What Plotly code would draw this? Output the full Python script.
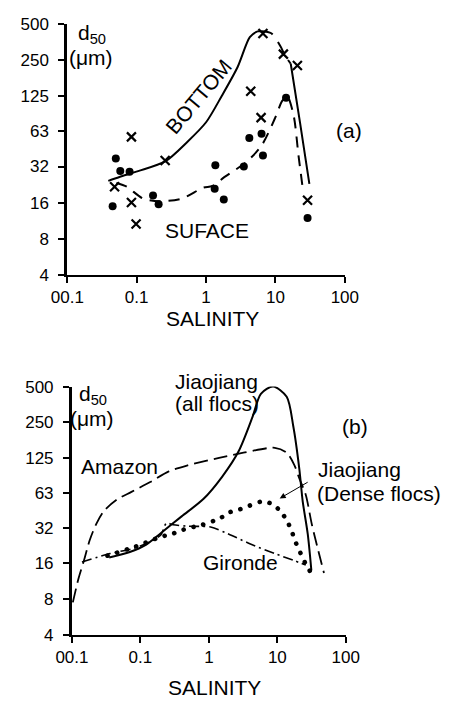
import math
import plotly.graph_objects as go

# ---------------- data ----------------
x_tick_vals = [0.01, 0.1, 1, 10, 100]
x_tick_text = ["00.1", "0.1", "1", "10", "100"]
y_tick_vals = [4, 8, 16, 32, 63, 125, 250, 500]
y_tick_text = ["4", "8", "16", "32", "63", "125", "250", "500"]

# panel (a): bottom-water samples (crosses)
bottom_pts_x = [0.048, 0.084, 0.084, 0.098, 0.257, 4.4, 6.2, 6.6, 8.2, 13, 20.7, 29]
bottom_pts_y = [21.7, 56.6, 16, 10.6, 36, 136, 82, 413, 537, 278, 223, 16.7]
# panel (a): surface-water samples (dots)
surface_pts_x = [0.045, 0.050, 0.058, 0.079, 0.172, 0.207, 1.33, 1.36, 1.8, 3.5, 4.2, 6.3, 6.6, 14.2, 29]
surface_pts_y = [14.9, 37.3, 29.3, 29, 18.3, 15.5, 20.9, 32.8, 17, 32, 55.4, 60, 39.6, 120, 11.9]
# panel (a): BOTTOM fitted curve
bottom_curve_x = [0.039, 0.0565, 0.105, 0.257, 0.54, 1.0, 1.69, 2.86, 4.27, 5.5, 6.3, 8.7, 11.9, 13.5, 16.6, 22.7, 30.8]
bottom_curve_y = [24.3, 26.2, 29.3, 35.3, 51.6, 75, 125, 218, 385, 430, 432, 415, 320, 275, 231, 73, 22.9]
# panel (a): SURFACE fitted curve
surface_curve_x = [0.051, 0.072, 0.123, 0.213, 0.45, 0.91, 1.23, 1.85, 3.9, 6.4, 9.8, 12.5, 14.7, 18.3, 21.4, 25]
surface_curve_y = [23.3, 21.7, 17.3, 16.4, 17.3, 21.3, 22, 26.2, 35.3, 48.6, 80.6, 113, 124, 85, 40.3, 20]

# panel (b)
jiao_all_x = [0.035, 0.07, 0.12, 0.2, 0.4, 0.83, 1.55, 2.72, 4.37, 5.75, 8.7, 13.7, 17.1, 20.9, 23.5, 27.8, 31.4]
jiao_all_y = [18, 20, 23, 29, 40, 56, 86, 142, 280, 434, 500, 410, 231, 102, 53.4, 28.4, 14]
amazon_x = [0.0103, 0.0125, 0.015, 0.0181, 0.0226, 0.029, 0.045, 0.074, 0.139, 0.26, 0.49, 1.41, 3.2, 9.2, 13.7, 17.8, 20.9, 26, 32, 48]
amazon_y = [7.5, 12, 17, 25, 34.4, 44, 55.4, 64.4, 78, 96, 108, 125, 138, 152, 138, 108, 84, 61, 34, 13.3]
jiao_dense_x = [0.033, 0.084, 0.2, 0.29, 0.41, 0.59, 0.78, 1.46, 1.98, 2.8, 3.96, 5.94, 8.2, 11.2, 13.9, 16.2, 18.4, 21.6, 25.2, 30.6]
jiao_dense_y = [18.6, 22.2, 26.9, 28.4, 30.7, 32.5, 33.8, 38.6, 43.2, 45.8, 49.4, 53.4, 51.2, 44, 36.5, 30, 24.4, 19.8, 16.4, 13.5]
gironde_x = [0.014, 0.036, 0.08, 0.15, 0.2, 0.24, 0.3, 0.5, 1.06, 1.93, 3.96, 9.2, 17.2, 26]
gironde_y = [16.5, 19.4, 21.5, 25, 28, 35, 34, 33, 32.5, 28.4, 23.5, 19.4, 17, 15.5]

# ---------------- figure ----------------
W, H = 452, 707
FONT = "Liberation Sans, Arial, Helvetica, sans-serif"
fig = go.Figure()

def line(x, y, dash, width=2.0, xa="x", ya="y", shape="spline", smoothing=0.8):
    fig.add_trace(go.Scatter(x=x, y=y, mode="lines", xaxis=xa, yaxis=ya,
                             line=dict(color="black", width=width, dash=dash, shape=shape, smoothing=smoothing),
                             hoverinfo="skip", showlegend=False, cliponaxis=False))

# panel (a)
line(bottom_curve_x[:11], bottom_curve_y[:11], "solid")
line(bottom_curve_x[10:15], bottom_curve_y[10:15], "12px,9px")
line(bottom_curve_x[14:], bottom_curve_y[14:], "solid")
line(surface_curve_x, surface_curve_y, "11px,8px")
fig.add_trace(go.Scatter(x=bottom_pts_x, y=bottom_pts_y, mode="markers", xaxis="x", yaxis="y",
                         marker=dict(symbol="x-thin", size=9, line=dict(width=2.2, color="black")),
                         showlegend=False, cliponaxis=False, hoverinfo="skip"))
fig.add_trace(go.Scatter(x=surface_pts_x, y=surface_pts_y, mode="markers", xaxis="x", yaxis="y",
                         marker=dict(symbol="circle", size=8, color="black"),
                         showlegend=False, cliponaxis=False, hoverinfo="skip"))

# panel (b)
line(amazon_x, amazon_y, "14px,6px", 1.8, "x2", "y2")
line(gironde_x, gironde_y, "10px,4px,2px,4px", 1.6, "x2", "y2")
line(jiao_all_x, jiao_all_y, "solid", 2.0, "x2", "y2")
line(jiao_dense_x, jiao_dense_y, "4px,7px", 4.6, "x2", "y2")

def px2paper(px, py):
    return px / W, 1 - py / H

axis_common = dict(showline=True, linecolor="black", ticks="outside", tickcolor="black",
                   tickwidth=2, ticklen=6, showgrid=False, zeroline=False,
                   tickfont=dict(family=FONT, size=17, color="black"))

fig.update_layout(
    width=W, height=H, margin=dict(l=0, r=0, t=0, b=0),
    paper_bgcolor="white", plot_bgcolor="white", showlegend=False,
    xaxis=dict(type="log", range=[-2, 2], domain=[54 / W, 352 / W], anchor="y",
               tickvals=x_tick_vals, ticktext=x_tick_text, linewidth=2, **axis_common),
    yaxis=dict(type="log", range=[math.log10(4), math.log10(500)],
               domain=[1 - 273 / H, 1 - 15 / H], anchor="x",
               tickvals=y_tick_vals, ticktext=y_tick_text, linewidth=3, ticklabelstandoff=6, **axis_common),
    xaxis2=dict(type="log", range=[-2, 2], domain=[59 / W, 353 / W], anchor="y2",
                tickvals=x_tick_vals, ticktext=x_tick_text, linewidth=2, **axis_common),
    yaxis2=dict(type="log", range=[math.log10(4), math.log10(500)],
                domain=[1 - 643 / H, 1 - 388 / H], anchor="x2",
                tickvals=y_tick_vals, ticktext=y_tick_text, linewidth=3, ticklabelstandoff=6, **axis_common),
)

def label(text, px, py, size=21, angle=0, xanchor="center"):
    x, y = px2paper(px, py)
    fig.add_annotation(text=text, x=x, y=y, xref="paper", yref="paper", showarrow=False,
                       xanchor=xanchor, yanchor="middle", textangle=angle,
                       font=dict(family=FONT, size=size, color="black"))

# panel (a) labels
label("d<sub>50</sub>", 80, 26)
label("(\u03bcm)", 79, 50)
label("BOTTOM", 195, 90, angle=-50)
label("SUFACE", 204, 228)
label("(a)", 356, 125)
label("SALINITY", 210, 318)

# panel (b) labels
label("d<sub>50</sub>", 82, 397)
label("(\u03bcm)", 81, 421)
label("Jiaojiang", 168, 383, xanchor="left")
label("(all flocs)", 168, 405, xanchor="left")
label("(b)", 363, 429)
label("Amazon", 67, 470, xanchor="left")
label("Jiaojiang", 321, 473, xanchor="left")
label("(Dense flocs)", 320, 498, xanchor="left")
label("Gironde", 198, 569, xanchor="left")
label("SALINITY", 212, 697)

# arrow to dense-floc curve
tx, ty = px2paper(282, 503)
fig.add_annotation(x=tx, y=ty, xref="paper", yref="paper", text=" ", showarrow=True,
                   ax=31, ay=-18, arrowhead=2, arrowsize=1.2, arrowwidth=1, arrowcolor="black")

# make the dotted (dense flocs) line round-dotted like the original
post = """
var gd = document.getElementById('{plot_id}');
gd.querySelectorAll('path.js-line').forEach(function(p){
  if (parseFloat(p.style.strokeWidth) > 4) {
    p.style.strokeLinecap = 'round';
    p.style.strokeDasharray = '0.1px,10px';
  }
});
"""
fig.write_html("out.html", post_script=post)
